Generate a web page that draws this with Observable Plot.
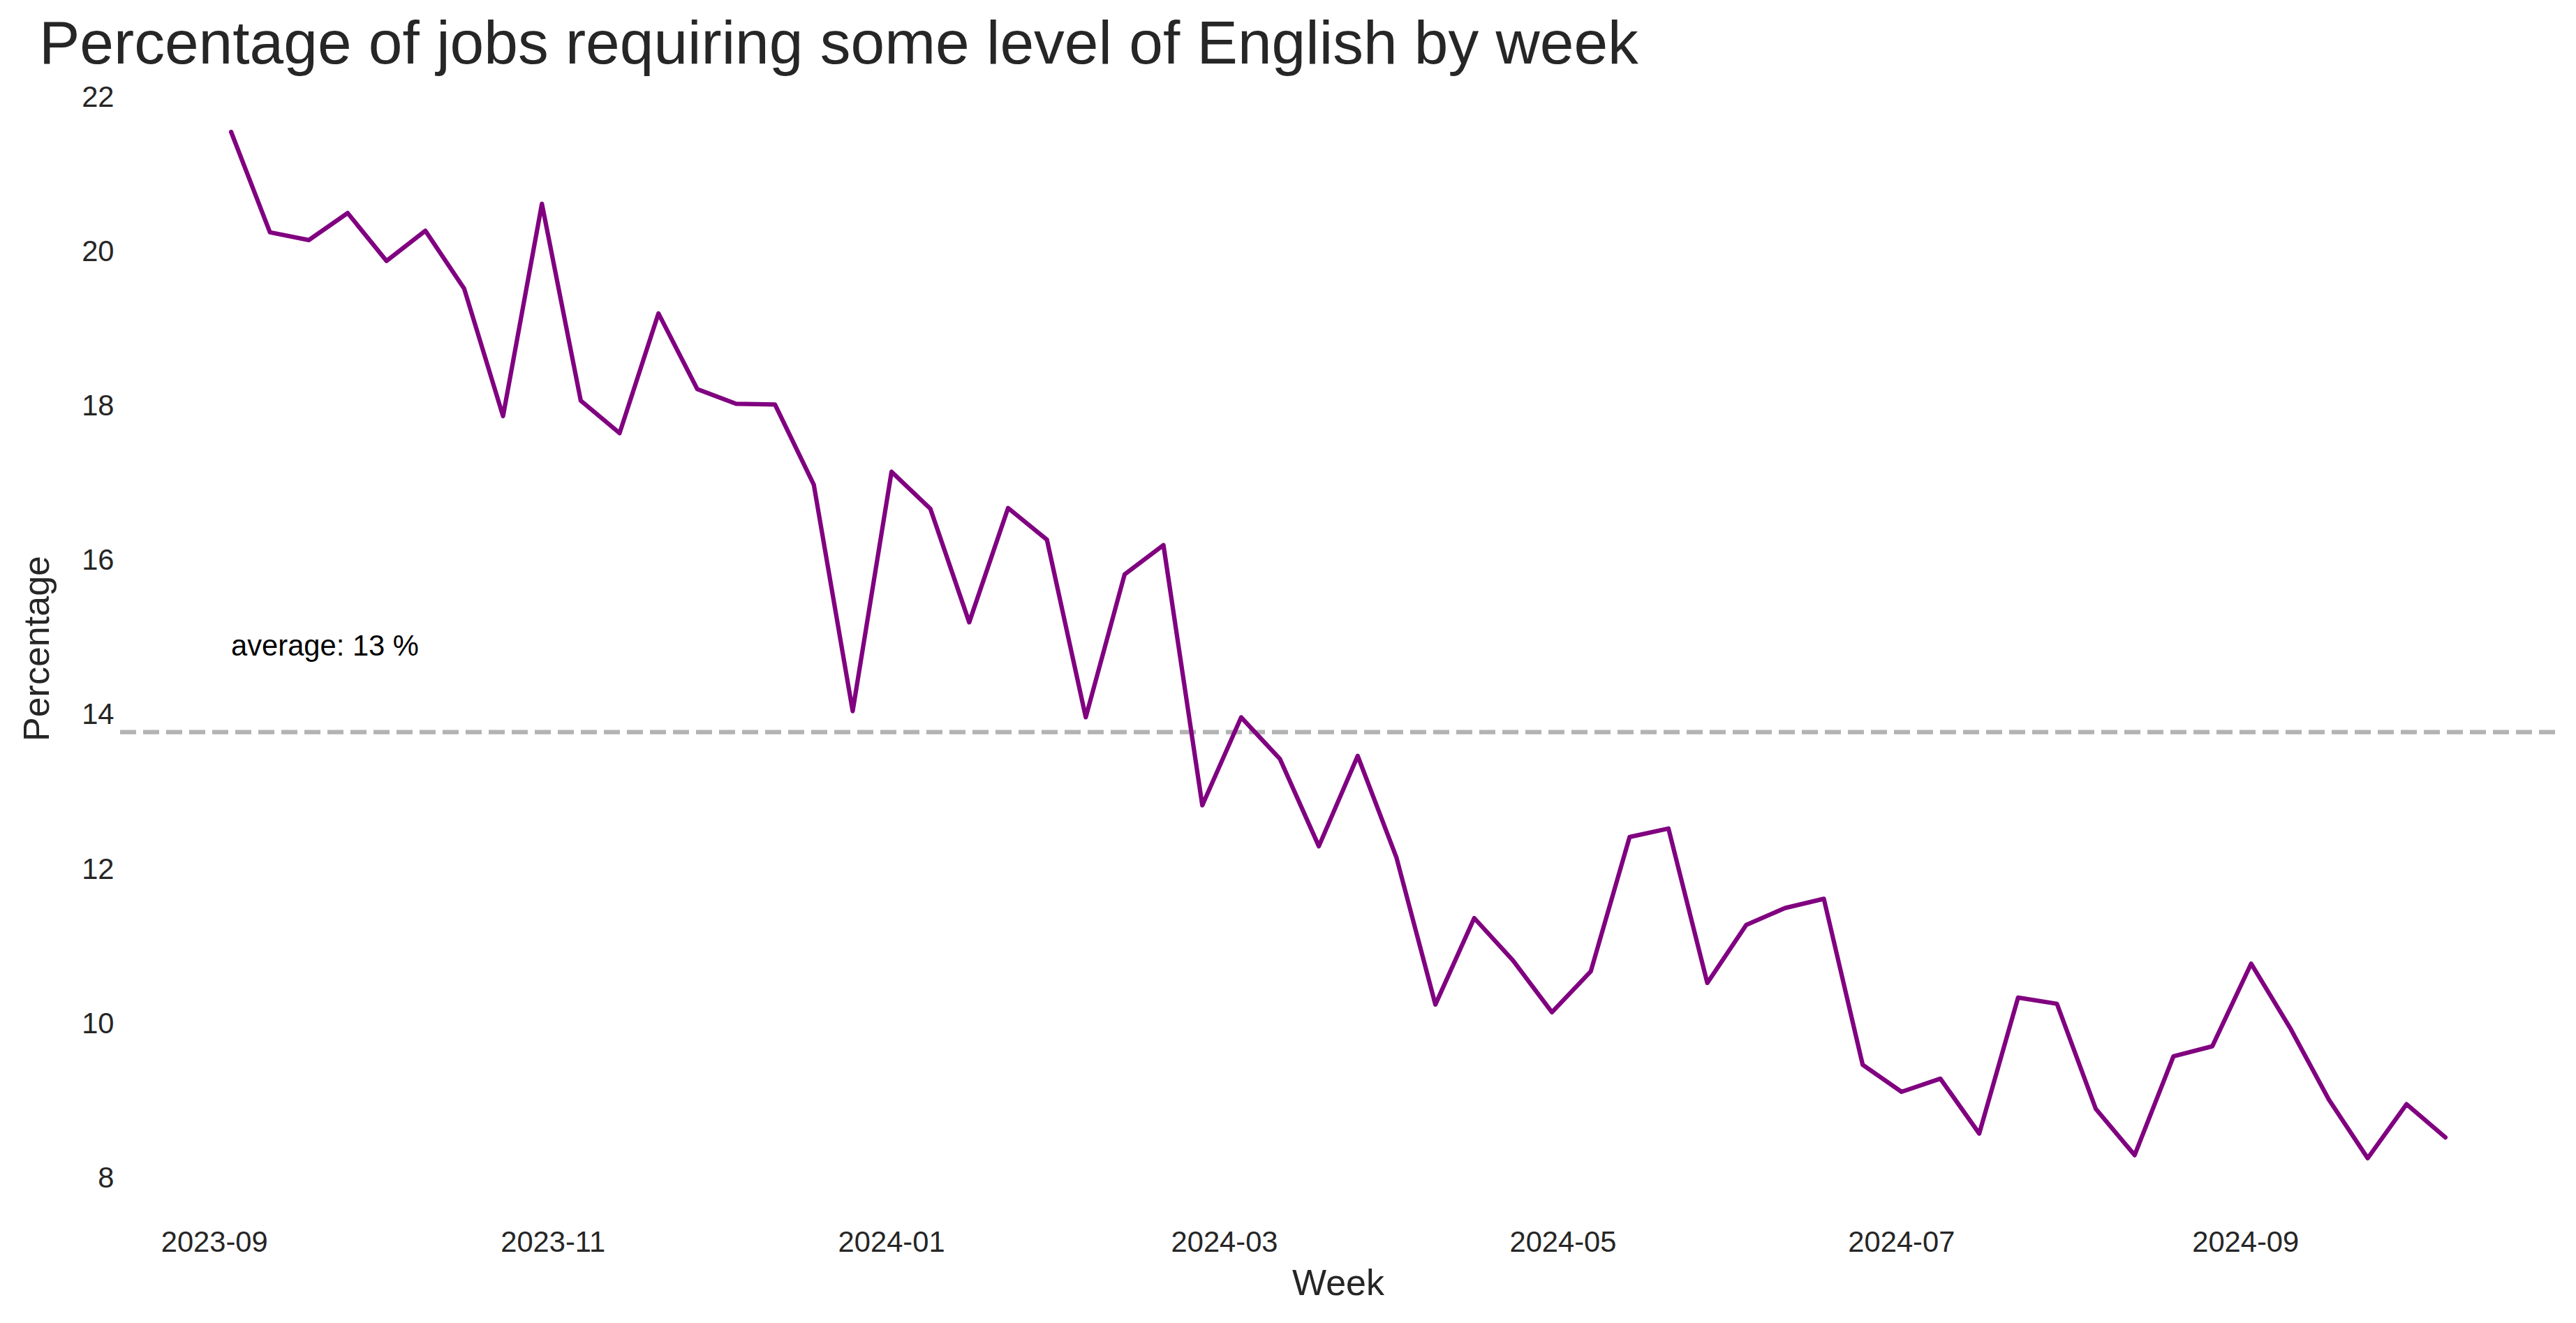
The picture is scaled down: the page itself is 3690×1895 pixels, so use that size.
<!DOCTYPE html>
<html>
<head>
<meta charset="utf-8">
<script src="https://cdn.jsdelivr.net/npm/d3@7"></script>
<script src="https://cdn.jsdelivr.net/npm/@observablehq/plot@0.6"></script>
<style>
  html, body { margin: 0; padding: 0; background: #ffffff; }
  #wrap { width: 3690px; height: 1895px; position: relative; overflow: hidden; background: #ffffff; }
  #title { position: relative; height: 100px; width: 3690px; }
  #title span {
    position: absolute; left: 56px; top: 18px;
    font-family: "Liberation Sans", Arial, sans-serif;
    font-size: 87.5px; line-height: 87.5px; color: #262626; white-space: nowrap;
  }
</style>
</head>
<body>
<div id="wrap">
  <div id="title"><span>Percentage of jobs requiring some level of English by week</span></div>
  <div id="chart"></div>
</div>
<script>
// ---- data ----
const weeks = [
  "2023-09-04","2023-09-11","2023-09-18","2023-09-25","2023-10-02","2023-10-09","2023-10-16","2023-10-23","2023-10-30",
  "2023-11-06","2023-11-13","2023-11-20","2023-11-27","2023-12-04","2023-12-11","2023-12-18","2023-12-25",
  "2024-01-01","2024-01-08","2024-01-15","2024-01-22","2024-01-29","2024-02-05","2024-02-12","2024-02-19","2024-02-26",
  "2024-03-04","2024-03-11","2024-03-18","2024-03-25","2024-04-01","2024-04-08","2024-04-15","2024-04-22","2024-04-29",
  "2024-05-06","2024-05-13","2024-05-20","2024-05-27","2024-06-03","2024-06-10","2024-06-17","2024-06-24",
  "2024-07-01","2024-07-08","2024-07-15","2024-07-22","2024-07-29","2024-08-05","2024-08-12","2024-08-19","2024-08-26",
  "2024-09-02","2024-09-09","2024-09-16","2024-09-23","2024-09-30","2024-10-07"
];
const percentage = [
  21.55, 20.25, 20.15, 20.50, 19.88, 20.27, 19.52, 17.87, 20.62,
  18.07, 17.65, 19.20, 18.22, 18.03, 18.02, 16.98, 14.05,
  17.15, 16.67, 15.20, 16.68, 16.27, 13.97, 15.82, 16.20, 12.83,
  13.97, 13.43, 12.30, 13.47, 12.15, 10.25, 11.37, 10.82, 10.15,
  10.68, 12.42, 12.53, 10.53, 11.28, 11.50, 11.62, 9.47,
  9.12, 9.29, 8.58, 10.34, 10.26, 8.90, 8.30, 9.58, 9.71,
  10.78, 9.95, 9.02, 8.26, 8.96, 8.53
];
const xTickLabels = ["2023-09","2023-11","2024-01","2024-03","2024-05","2024-07","2024-09"];
const yTicks = [8, 10, 12, 14, 16, 18, 20, 22];

// ---- build ----
const parse = d3.utcParse("%Y-%m-%d");
const table = weeks.map((w, i) => ({week: parse(w), value: percentage[i]}));
const average = d3.mean(percentage);
const tickDates = xTickLabels.map(s => parse(s + "-01"));

// matplotlib-like 5% auto margins
const [t0, t1] = d3.extent(table, d => d.week);
const tpad = (t1 - t0) * 0.05;
const [v0, v1] = d3.extent(percentage);
const vpad = (v1 - v0) * 0.05;

const FONT = '"Liberation Sans", Arial, sans-serif';
const INK = "#262626";

const chart = Plot.plot({
  width: 3690,
  height: 1795,
  marginLeft: 172,
  marginRight: 29,
  marginTop: 15,
  marginBottom: 163,
  style: { background: "#ffffff", color: INK, fontFamily: FONT, fontSize: "41.7px", overflow: "visible" },
  x: { type: "utc", domain: [new Date(+t0 - tpad), new Date(+t1 + tpad)] },
  y: { domain: [v0 - vpad, v1 + vpad] },
  marks: [
    Plot.ruleY([average], {
      stroke: "#b3b3b3", strokeWidth: 6.25, strokeDasharray: "23,10"
    }),
    Plot.line(table, {
      x: "week", y: "value", stroke: "#800080", strokeWidth: 6.25,
      strokeLinejoin: "round", strokeLinecap: "round"
    }),
    Plot.text([average], {
      x: () => t0, y: d => d + 1,
      text: d => `average: ${Math.floor(d)} %`,
      textAnchor: "start", lineAnchor: "middle", dy: -12,
      fill: "#000000", fontSize: 41.7
    }),
    Plot.axisX({
      ticks: tickDates, tickFormat: d3.utcFormat("%Y-%m"),
      tickSize: 0, tickPadding: 31, label: null, fontSize: 41.7, fill: INK
    }),
    Plot.axisY({
      ticks: yTicks, tickSize: 0, tickPadding: 9, label: null, fontSize: 41.7, fill: INK
    }),
    Plot.text(["Week"], {
      frameAnchor: "bottom", text: d => d, dy: 106, lineAnchor: "middle",
      fontSize: 52, fill: INK
    }),
    Plot.text(["Percentage"], {
      frameAnchor: "left", text: d => d, rotate: -90, dx: -119, dy: 5,
      lineAnchor: "middle", textAnchor: "middle", fontSize: 52, fill: INK
    })
  ]
});
document.getElementById("chart").appendChild(chart);
</script>
</body>
</html>
